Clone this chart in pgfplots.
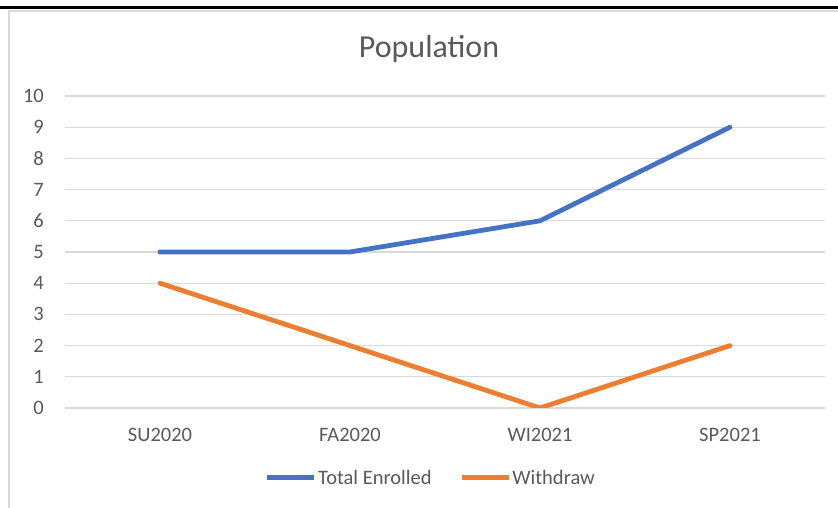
\documentclass[border=0pt]{standalone}
\usepackage{fontspec}
\setmainfont{Carlito}
\usepackage{pgfplots}
\pgfplotsset{compat=1.18}
\definecolor{enrolblue}{HTML}{4472C4}
\definecolor{withorange}{HTML}{ED7D31}
\definecolor{gridgray}{HTML}{D9D9D9}
\definecolor{labelgray}{HTML}{595959}

\begin{document}
\begin{tikzpicture}[x=1pt,y=1pt]
\path[use as bounding box] (0,0) rectangle (838,508);
% page rule and chart frame
\draw[black, line width=3pt] (0,500.5) -- (838,500.5);
\draw[gridgray, line width=1.2pt] (9,0) -- (9,497) -- (838,497);
\begin{axis}[
  at={(65pt,100pt)}, anchor=south west,
  scale only axis, width=760pt, height=312pt,
  xmin=-0.5, xmax=3.5, ymin=0, ymax=10,
  xtick={0,1,2,3}, xticklabels={SU2020,FA2020,WI2021,SP2021},
  ytick={0,1,...,10},
  ymajorgrids, grid style={gridgray, line width=1.3pt},
  axis line style={draw=none},
  major tick length=0pt,
  tick label style={font=\fontsize{20.5}{24}\selectfont, text=labelgray},
  yticklabel style={inner sep=0pt, anchor=east, xshift=-21pt},
  xticklabel style={inner sep=0pt, anchor=north, yshift=-20pt},
  /pgf/number format/assume math mode=true,
  title={Population},
  title style={at={(0.479,1.131)}, anchor=center, inner sep=0pt,
    font=\fontsize{32}{38}\selectfont, text=labelgray},
  legend columns=2,
  legend style={at={(0.481,-0.224)}, anchor=center, draw=none, fill=none,
    font=\fontsize{20.5}{24}\selectfont, text=labelgray,
    nodes={inner sep=1.5pt},
    /tikz/every even column/.append style={column sep=26pt}},
  legend image code/.code={\draw[#1, line width=4.8pt, line cap=butt] (0pt,0pt) -- (47pt,0pt);},
  every axis plot/.append style={line width=4.8pt, line cap=round, line join=round},
]
\addplot[enrolblue] coordinates {(0,5) (1,5) (2,6) (3,9)};
\addlegendentry{Total Enrolled}
\addplot[withorange] coordinates {(0,4) (1,2) (2,0) (3,2)};
\addlegendentry{Withdraw}
\end{axis}
\end{tikzpicture}
\end{document}
